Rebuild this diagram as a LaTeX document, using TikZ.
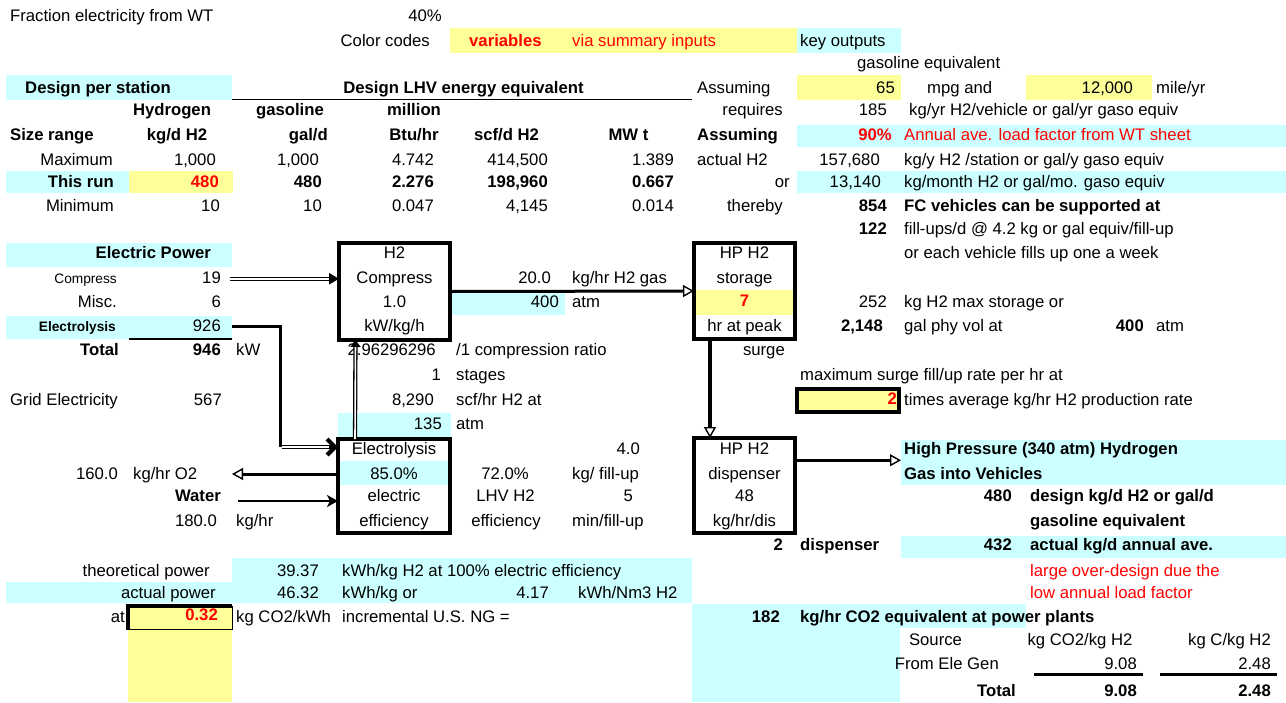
\documentclass[tikz,border=0pt]{standalone}
\usepackage{fontspec}
\setmainfont{Liberation Sans}
\usetikzlibrary{arrows.meta}

\definecolor{xlcyan}{HTML}{CCFFFF}
\definecolor{xlyellow}{HTML}{FFFF99}
\definecolor{xlred}{HTML}{FF0000}

\newcommand\cellfont{\fontsize{16.7}{20}\selectfont}
\newcommand\smallcell{\fontsize{13.7}{16}\selectfont}

\tikzset{
  num/.style={anchor=base east},
  txt/.style={anchor=base west},
  mid/.style={anchor=base},
  bf/.style={font=\cellfont\bfseries},
  sm/.style={font=\smallcell},
  smbf/.style={font=\smallcell\bfseries},
  hot/.style={text=xlred},
  unit/.style={draw,line width=4pt,outer sep=0pt},
  flow/.style={line width=3pt},
  % double line: black body with a white core that stops short of the tip
  pipe/.style={line width=4.2pt,postaction={draw=white,line width=1.6pt,arrows=-,shorten >=#1}},
  pipe/.default=10pt,
  openhead/.style={-{Triangle[open,fill=white,length=11pt,width=12pt,line width=1.4pt]}},
}

\begin{document}
\begin{tikzpicture}[x=1pt,y=-1pt,font=\cellfont,
    every node/.style={inner sep=0pt,text height=12pt,text depth=3.5pt}]
    \useasboundingbox (0,0) rectangle (1286,702);

    \foreach \xa/\ya/\xb/\yb in {797/28/901/53, 6/75/232/100, 797/125/1286/147,
        6/171/129/193, 797/171/1286/193, 6/243/232/267, 452/291/565/315,
        6/316/232/339, 338/413/451/437, 338/461/450/485, 901/440/1286/485,
        901/536/1286/558, 232/558/692/582, 6/582/692/603, 692/604/1026/628,
        692/628/900/702}
      \fill[xlcyan] (\xa,\ya) rectangle (\xb,\yb);
    \foreach \xa/\ya/\xb/\yb in {450/28/797/53, 797/75/901/100, 1026/75/1152/100,
        129/171/233/193, 694/290/795/315, 128/606/232/702}
      \fill[xlyellow] (\xa,\ya) rectangle (\xb,\yb);

    \draw[line width=1.5pt] (232,99.5) -- (692,99.5);
    \draw[line width=1.3pt] (129,339) -- (232,339);
    \draw[line width=3pt] (1034,674) -- (1143,674);
    \draw[line width=3pt] (1160,674) -- (1277,674);
    \draw[line width=0.8pt] (128,629.5) -- (232,629.5) -- (232,606);
    \draw[line width=4pt] (128,630) -- (128,605.5) -- (232,605.5);
    \draw[line width=4pt,fill=xlyellow] (797,389) rectangle (899,411.5);

    \node[txt] (frac) at (10,21) {Fraction electricity from WT};
    \node[num] (fracv) at (442,21) {40\%};
    \node[num] (codes) at (430,46) {Color codes};
    \node[txt,bf,hot] (vars) at (469,46) {variables};
    \node[txt,hot] (via) at (572,46) {via summary inputs};
    \node[txt] (keyout) at (800,46) {key outputs};
    \node[txt] (gaseq) at (857,68) {gasoline equivalent};

    \node[txt,bf] (design) at (25,93) {Design per station};
    \node[mid,bf] (lhv) at (463.5,93) {Design LHV energy equivalent};
    \node[txt] (assumeA) at (697,93) {Assuming};
    \node[num] (mpg) at (895,93) {65};
    \node[txt] (mpgand) at (927,93) {mpg and};
    \node[num] (miles) at (1133,93) {12,000};
    \node[txt] (mileyr) at (1156,93) {mile/yr};

    \node[mid,bf] (hyd) at (172,115) {Hydrogen};
    \node[mid,bf] (gas) at (290,115) {gasoline};
    \node[mid,bf] (mill) at (414,115) {million};
    \node[num] (req) at (783,115) {requires};
    \node[num] (perveh) at (887,115) {185};
    \node[txt] (pervehu) at (909,115) {kg/yr H2/vehicle or gal/yr gaso equiv};

    \node[txt,bf] (size) at (10,140) {Size range};
    \node[mid,bf] (kgd) at (177,140) {kg/d H2};
    \node[num,bf] (gald) at (328,140) {gal/d};
    \node[mid,bf] (btu) at (414,140) {Btu/hr};
    \node[mid,bf] (scfd) at (506.5,140) {scf/d H2};
    \node[mid,bf] (mwt) at (628.5,140) {MW t};
    \node[txt,bf] (assumeB) at (697,140) {Assuming};
    \node[num,bf,hot] (load) at (892,140) {90\%};
    \node[txt,hot] (loadu) at (904,140) {Annual ave. load factor from WT sheet};

    \node[num] (maxl) at (113,165) {Maximum};
    \node[num] (maxh) at (216,165) {1,000};
    \node[num] (maxg) at (319,165) {1,000};
    \node[num] (maxb) at (434,165) {4.742};
    \node[num] (maxs) at (548,165) {414,500};
    \node[num] (maxm) at (674,165) {1.389};
    \node[txt] (actual) at (697,165) {actual H2};
    \node[num] (peryr) at (880,165) {157,680};
    \node[txt] (peryru) at (904,165) {kg/y H2 /station or gal/y gaso equiv};

    \node[num,bf] (runl) at (114,187) {This run};
    \node[num,bf,hot] (runh) at (219,187) {480};
    \node[num,bf] (rung) at (322,187) {480};
    \node[num,bf] (runb) at (434,187) {2.276};
    \node[num,bf] (runs) at (548,187) {198,960};
    \node[num,bf] (runm) at (674,187) {0.667};
    \node[num] (orA) at (790,187) {or};
    \node[num] (permo) at (881,187) {13,140};
    \node[txt] (permou) at (904,187) {kg/month H2 or gal/mo. gaso equiv};

    \node[num] (minl) at (114,211) {Minimum};
    \node[num] (minh) at (220,211) {10};
    \node[num] (ming) at (322,211) {10};
    \node[num] (minb) at (434,211) {0.047};
    \node[num] (mins) at (548,211) {4,145};
    \node[num] (minm) at (674,211) {0.014};
    \node[num] (thereby) at (783,211) {thereby};
    \node[num,bf] (fcv) at (887,211) {854};
    \node[txt,bf] (fcvu) at (904,211) {FC vehicles can be supported at};
    \node[num,bf] (fills) at (887,234) {122};
    \node[txt] (fillsu) at (904,234) {fill-ups/d @ 4.2 kg or gal equiv/fill-up};
    \node[txt] (weekly) at (904,258) {or each vehicle fills up one a week};

    \node[num,bf] (power) at (211,258) {Electric Power};
    \node[num,sm] (pwcl) at (117,283) {Compress};
    \node[num] (pw19) at (221,283) {19};
    \node[num] (miscl) at (117,307) {Misc.};
    \node[num] (misc) at (221,307) {6};
    \node[num,smbf] (pwel) at (116,331) {Electrolysis};
    \node[num] (pw926) at (221,331) {926};
    \node[num,bf] (totl) at (119,355) {Total};
    \node[num,bf] (tot) at (221,355) {946};
    \node[txt] (kw) at (236,355) {kW};
    \node[txt] (grid) at (10,405) {Grid Electricity};
    \node[num] (gridv) at (222,405) {567};

    \node[unit,minimum width=111pt,minimum height=97pt] (compress) at (394.5,291.5) {};
    \node[mid] (cpA) at (394.5,258) {H2};
    \node[mid] (cpB) at (394.5,283) {Compress};
    \node[mid] (cpC) at (394.5,307) {1.0};
    \node[mid] (cpD) at (394.5,331) {kW/kg/h};

    \node[num] (rate) at (551,283) {20.0};
    \node[txt] (rateu) at (572,283) {kg/hr H2 gas};
    \node[num] (outp) at (559,307) {400};
    \node[txt] (outpu) at (572,307) {atm};
    \node[num] (ratio) at (436,355) {2.96296296};
    \node[txt] (ratiou) at (456,355) {/1 compression ratio};
    \node[num] (stg) at (441,380) {1};
    \node[txt] (stgu) at (456,380) {stages};
    \node[num] (scfh) at (434,405) {8,290};
    \node[txt] (scfhu) at (456,405) {scf/hr H2 at};
    \node[num] (inp) at (442,429) {135};
    \node[txt] (inpu) at (456,429) {atm};

    \node[unit,minimum width=101pt,minimum height=96pt] (storage) at (744.5,291) {};
    \node[mid] (stA) at (744.5,258) {HP H2};
    \node[mid] (stB) at (744.5,283) {storage};
    \node[mid,bf,hot] (stC) at (744.5,306) {7};
    \node[mid] (stD) at (744.5,331) {hr at peak};
    \node[num] (surge) at (785,355) {surge};

    \node[num] (maxst) at (887,307) {252};
    \node[txt] (maxstu) at (904,307) {kg H2 max storage or};
    \node[num,bf] (vol) at (883,331) {2,148};
    \node[txt] (volu) at (904,331) {gal phy vol at};
    \node[num,bf] (volp) at (1144,331) {400};
    \node[txt] (volpu) at (1156,331) {atm};
    \node[txt] (peak) at (800,380) {maximum surge fill/up rate per hr at};
    \node[num,bf,hot] (peakv) at (897,404) {2};
    \node[txt] (peaku) at (904,405) {times average kg/hr H2 production rate};

    \node[unit,minimum width=112pt,minimum height=93.5pt] (electro) at (394,485.75) {};
    \node[mid] (elA) at (394,454) {Electrolysis};
    \node[mid] (elB) at (394,479) {85.0\%};
    \node[mid] (elC) at (394,501) {electric};
    \node[mid] (elD) at (394,526) {efficiency};

    \node[num] (o2) at (118,479) {160.0};
    \node[txt] (o2u) at (133,479) {kg/hr O2};
    \node[num,bf] (water) at (221,501) {Water};
    \node[num] (wat) at (217,526) {180.0};
    \node[txt] (watu) at (236,526) {kg/hr};

    \node[mid] (lhvA) at (505,479) {72.0\%};
    \node[mid] (lhvB) at (505.5,501) {LHV H2};
    \node[mid] (lhvC) at (506,526) {efficiency};
    \node[num] (fillkg) at (640,454) {4.0};
    \node[txt] (fillkgu) at (572,479) {kg/ fill-up};
    \node[num] (fillmin) at (633,501) {5};
    \node[txt] (fillminu) at (572,526) {min/fill-up};

    \node[unit,minimum width=101pt,minimum height=94.5pt] (dispenser) at (744.5,485.25) {};
    \node[mid] (dsA) at (744.5,454) {HP H2};
    \node[mid] (dsB) at (744.5,479) {dispenser};
    \node[mid] (dsC) at (744.5,501) {48};
    \node[mid] (dsD) at (744.5,526) {kg/hr/dis};
    \node[num,bf] (ndis) at (783,550) {2};
    \node[txt,bf] (ndisu) at (800,550) {dispenser};

    \node[txt,bf] (hpA) at (904,454) {High Pressure (340 atm) Hydrogen};
    \node[txt,bf] (hpB) at (904,479) {Gas into Vehicles};
    \node[num,bf] (dsg) at (1012,501) {480};
    \node[txt,bf] (dsgA) at (1030,501) {design kg/d H2 or gal/d};
    \node[txt,bf] (dsgB) at (1030,526) {gasoline equivalent};
    \node[num,bf] (ave) at (1012,550) {432};
    \node[txt,bf] (aveu) at (1030,550) {actual kg/d annual ave.};
    \node[txt,hot] (noteA) at (1030,576) {large over-design due the};
    \node[txt,hot] (noteB) at (1030,598) {low annual load factor};

    \node[num] (theol) at (210,576) {theoretical power};
    \node[num] (theo) at (319,576) {39.37};
    \node[txt] (theou) at (342,576) {kWh/kg H2 at 100\% electric efficiency};
    \node[num] (actl) at (216,598) {actual power};
    \node[num] (act) at (319,598) {46.32};
    \node[txt] (actu) at (342,598) {kWh/kg or};
    \node[num] (nm3) at (549,598) {4.17};
    \node[txt] (nm3u) at (578,598) {kWh/Nm3 H2};
    \node[num] (atl) at (125,622) {at};
    \node[num,bf,hot] (co2f) at (218,620) {0.32};
    \node[txt] (co2fu) at (236,622) {kg CO2/kWh};
    \node[txt] (ng) at (342,622) {incremental U.S. NG =};
    \node[num,bf] (co2) at (780,622) {182};
    \node[txt,bf] (co2u) at (800,622) {kg/hr CO2 equivalent at power plants};

    \node[mid] (src) at (935.5,645) {Source};
    \node[mid] (srcA) at (1080,645) {kg CO2/kg H2};
    \node[num] (srcB) at (1271,645) {kg C/kg H2};
    \node[num] (ele) at (999,669) {From Ele Gen};
    \node[num] (eleA) at (1137,669) {9.08};
    \node[num] (eleB) at (1271,669) {2.48};
    \node[num,bf] (sum) at (1016,696) {Total};
    \node[num,bf] (sumA) at (1137,696) {9.08};
    \node[num,bf] (sumB) at (1271,696) {2.48};

    \coordinate (elbow) at (280,447);
    \coordinate (o2out) at (232,474);
    \coordinate (waterin) at (238,501);

    \draw[pipe,-{Triangle[length=10pt,width=11pt]}] ([xshift=9pt]pw19.east) -- (pw19.east -| compress.west);
    \draw[flow] ([xshift=11pt]pw926.east) -| (elbow);
    \draw[pipe=9pt,-{Straight Barb[length=8pt,width=16pt]}] ([xshift=1.5pt]elbow) -- (elbow -| electro.west);
    \draw[pipe=7pt,-{Triangle[length=7pt,width=10pt]}] ([xshift=-39pt]electro.north) -- ([xshift=-39pt]compress.south);
    \draw[flow,openhead] (compress.east) -- (storage.west);
    \draw[flow,openhead] (electro.west |- o2out) -- (o2out);
    \draw[line width=2.5pt,-{Stealth[length=11pt,width=12pt,inset=3pt]}] (waterin) -- (waterin -| electro.west);
    \draw[line width=3.5pt,openhead] ([xshift=-34.5pt]storage.south) -- ([xshift=-34.5pt]dispenser.north);
    \draw[flow,openhead] ([yshift=25pt]dispenser.east) -- ([yshift=25pt,xshift=-3pt]dispenser.east -| hpA.west);
\end{tikzpicture}
\end{document}
